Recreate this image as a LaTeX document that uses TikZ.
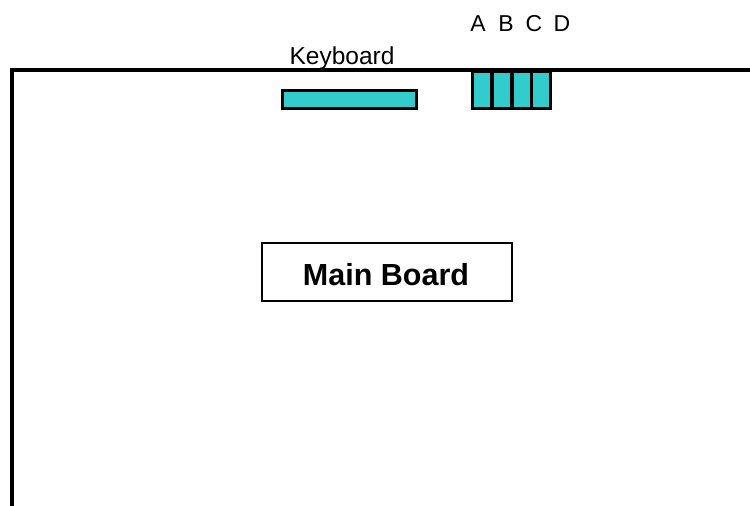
\documentclass[tikz,border=0pt]{standalone}
\usepackage{fontspec}
\setmainfont{Liberation Sans}
\definecolor{slotfill}{HTML}{33CCCC}
\begin{document}
\begin{tikzpicture}[x=1pt,y=-1pt,
  slot/.style={draw=black,fill=slotfill,line width=3pt},
  label/.style={inner sep=0pt,anchor=base},
  boardbox/.style={draw=black,line width=1.3pt,fill=white}]
\useasboundingbox (0,0) rectangle (750,506);
% chassis outline
\coordinate (cb) at (12,508);
\coordinate (cc) at (12,70);
\coordinate (cr) at (752,70);
\draw[line width=4pt] (cb) -- (cc) -- (cr);
% keyboard connector
\draw[slot] (282,90) rectangle (416,108);
\node[label,font=\fontsize{24.5}{28}\selectfont] (kbd) at (342,64) {Keyboard};
% four-way port block
\foreach \x/\n in {472/A,492/B,512/C,531/D}{
  \draw[slot] (\x,71) rectangle ++(19.5,37);
}
\node[label,font=\fontsize{23}{27}\selectfont] (la) at (478,31.5) {A};
\node[label,font=\fontsize{23}{27}\selectfont] (lb) at (506,31.5) {B};
\node[label,font=\fontsize{23}{27}\selectfont] (lc) at (534,31.5) {C};
\node[label,font=\fontsize{23}{27}\selectfont] (ld) at (562,31.5) {D};
% main board
\draw[boardbox] (262,243) rectangle (512,301);
\node[label,font=\fontsize{30.5}{34}\selectfont\bfseries] (mb) at (386,285) {Main Board};
\end{tikzpicture}
\end{document}
